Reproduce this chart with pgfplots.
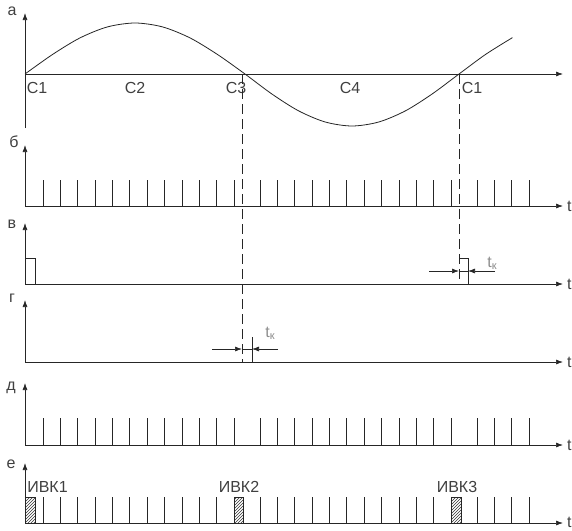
\documentclass[border=0pt]{standalone}
\usepackage{pgfplots}
\pgfplotsset{compat=1.18}
\usepackage{fontspec}
\setmainfont{Liberation Sans}
\usetikzlibrary{arrows.meta,patterns}
\begin{document}
\begin{tikzpicture}
\begin{axis}[name=ax, at={(0,0)}, anchor=south west,
  scale only axis, width=572pt, height=530pt,
  xmin=0, xmax=572, ymin=0, ymax=530, y dir=reverse,
  hide axis, clip=false,
  cycle list={{black!85,solid,no markers}},
  every axis plot/.append style={black!85, line width=0.7pt, no markers},
  nodes={font=\fontsize{16}{18}\selectfont, text=black!75, inner sep=0pt}]
% ---- panel a: sine ----
\addplot[-{Latex[length=7pt,width=5pt]}] coordinates {(25,128) (25,13)};
\addplot[-{Latex[length=7pt,width=5pt]}] coordinates {(25,74) (563,74)};
\addplot[smooth, line width=0.8pt] coordinates {
 (25,74) (52.5,54.5) (80,37.9) (107.5,26.9) (135,23) (162.5,26.9) (190,37.9) (217.5,54.5) (245,74)
 (271.75,93.9) (298.5,110.8) (325.25,122) (352,126) (378.75,122) (405.5,110.8) (432.25,93.9) (459,74)
 (485.75,54.3) (512.5,37.6)};
\node[anchor=base] at (axis cs:37,93) {C1};
\node[anchor=base] at (axis cs:12,16) {а};
\node[anchor=base] at (axis cs:135,93) {C2};
\node[anchor=base] at (axis cs:236,93) {C3};
\node[anchor=base] at (axis cs:350,93) {C4};
\node[anchor=base] at (axis cs:472,93) {C1};
% dashed lines
\addplot[black!85, dash pattern=on 10pt off 5pt] coordinates {(242,74) (242,362)};
\addplot[black!85, dash pattern=on 10pt off 5pt] coordinates {(459,74) (459,284)};
% ---- panel b ----
\addplot[-{Latex[length=7pt,width=5pt]}] coordinates {(25,206) (25,145)};
\addplot[-{Latex[length=7pt,width=5pt]}] coordinates {(25,206) (563,206)};
\pgfplotsinvokeforeach{43,60.4,77.7,95.1,112.4,129.8,147.2,164.5,181.9,199.2,216.6,234,260,277.4,294.7,312.1,329.5,346.8,364.2,381.5,398.9,416.3,433.6,451,477,494.4,511.7,529}{
  \addplot[black!85] coordinates {(#1,206) (#1,180)};}
\node[anchor=base] at (axis cs:14,147) {б};
\node[anchor=base west] at (axis cs:567,211) {t};
% ---- panel v ----
\addplot[-{Latex[length=7pt,width=5pt]}] coordinates {(25,284) (25,223)};
\addplot[-{Latex[length=7pt,width=5pt]}] coordinates {(25,284) (563,284)};
\addplot[black!85] coordinates {(25,258) (35,258) (35,284)};
\addplot[black!85] coordinates {(459,258) (468,258) (468,284)};
\addplot[black!85] coordinates {(459,271) (468,271)};
\addplot[-{Latex[length=7pt,width=5pt]}] coordinates {(429,271) (459,271)};
\addplot[-{Latex[length=7pt,width=5pt]}] coordinates {(495,271) (468,271)};
\node[anchor=base, text=black!45] at (axis cs:492,267) {t\raisebox{-0.35ex}{\fontsize{11}{12}\selectfont к}};
\node[anchor=base] at (axis cs:12,228) {в};
\node[anchor=base west] at (axis cs:567,289) {t};
% ---- panel g ----
\addplot[-{Latex[length=7pt,width=5pt]}] coordinates {(25,362) (25,300)};
\addplot[-{Latex[length=7pt,width=5pt]}] coordinates {(25,362) (563,362)};
\addplot[black!85] coordinates {(252,337) (252,362)};
\addplot[black!85] coordinates {(242,349) (252,349)};
\addplot[-{Latex[length=7pt,width=5pt]}] coordinates {(212,349) (242,349)};
\addplot[-{Latex[length=7pt,width=5pt]}] coordinates {(278,349) (252,349)};
\node[anchor=base, text=black!45] at (axis cs:270,337) {t\raisebox{-0.35ex}{\fontsize{11}{12}\selectfont к}};
\node[anchor=base] at (axis cs:12,302) {г};
\node[anchor=base west] at (axis cs:567,367) {t};
% ---- panel d ----
\addplot[-{Latex[length=7pt,width=5pt]}] coordinates {(25,445) (25,383)};
\addplot[-{Latex[length=7pt,width=5pt]}] coordinates {(25,445) (563,445)};
\pgfplotsinvokeforeach{43,60.4,77.7,95.1,112.4,129.8,147.2,164.5,181.9,199.2,216.6,234,260,277.4,294.7,312.1,329.5,346.8,364.2,381.5,398.9,416.3,433.6,451,477,494.4,511.7,529}{
  \addplot[black!85] coordinates {(#1,445) (#1,418)};}
\node[anchor=base] at (axis cs:11,390) {д};
\node[anchor=base west] at (axis cs:567,450) {t};
% ---- panel e ----
\addplot[-{Latex[length=7pt,width=5pt]}] coordinates {(25,523) (25,463)};
\addplot[-{Latex[length=7pt,width=5pt]}] coordinates {(25,523) (563,523)};
\pgfplotsinvokeforeach{43,60.4,77.7,95.1,112.4,129.8,147.2,164.5,181.9,199.2,216.6,260,277.4,294.7,312.1,329.5,346.8,364.2,381.5,398.9,416.3,433.6,477,494.4,511.7,529}{
  \addplot[black!85] coordinates {(#1,523) (#1,497)};}
\addplot[black!85, pattern=north east lines, pattern color=black!80] coordinates {(25,523) (25,497) (35,497) (35,523)} -- cycle;
\addplot[black!85, pattern=north east lines, pattern color=black!80] coordinates {(234,523) (234,497) (243,497) (243,523)} -- cycle;
\addplot[black!85, pattern=north east lines, pattern color=black!80] coordinates {(451,523) (451,497) (461,497) (461,523)} -- cycle;
\node[anchor=base] at (axis cs:47.5,492) {ИВК1};
\node[anchor=base] at (axis cs:239,492) {ИВК2};
\node[anchor=base] at (axis cs:457,492) {ИВК3};
\node[anchor=base] at (axis cs:11,468) {е};
\node[anchor=base west] at (axis cs:567,527) {t};
\end{axis}
\pgfresetboundingbox
\useasboundingbox (ax.south west) rectangle (ax.north east);
\end{tikzpicture}
\end{document}
